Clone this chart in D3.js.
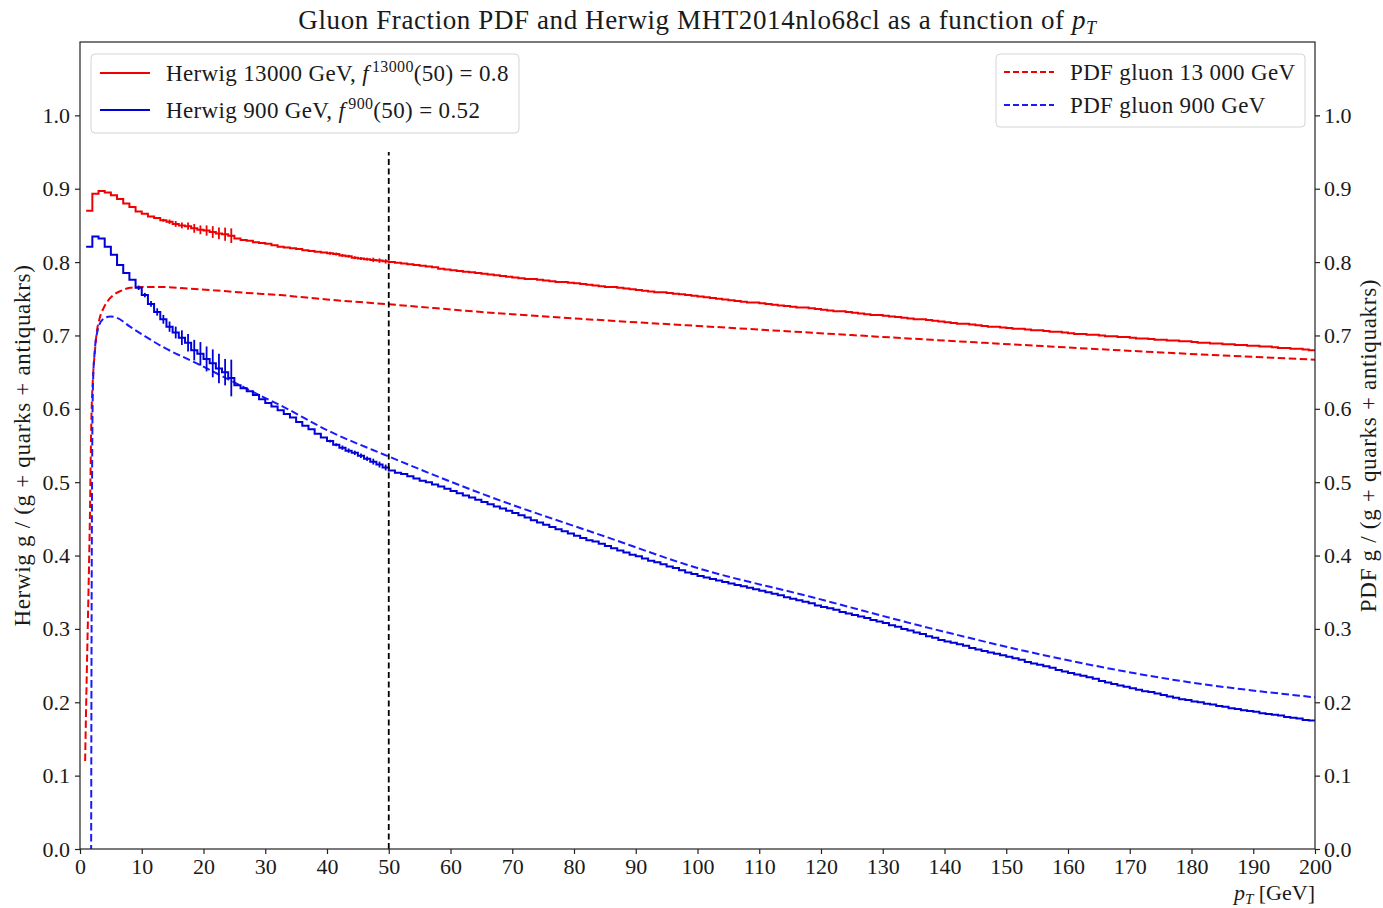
<!DOCTYPE html>
<html><head><meta charset="utf-8">
<script src="https://cdn.jsdelivr.net/npm/d3@7"></script>
<style>
body{margin:0;background:#fff}
svg{display:block}
text{font-family:"Liberation Serif","DejaVu Serif",serif;fill:#1a1a1a}
</style>
</head><body>
<svg id="c" width="1383" height="908"></svg>
<script>
// ---------------- data ----------------
// Herwig histograms: 1 GeV bins, lower edges 1..199 GeV (upper edge of last bin = 200)
const binLow = d3.range(1, 200);
const herwig13000 = [
 0.870,0.893,0.897,0.895,0.891,0.886,0.880,0.875,0.869,0.866,
 0.862,0.860,0.857,0.855,0.852,0.850,0.849,0.846,0.844,0.843,
 0.841,0.839,0.838,0.836,0.832,0.830,0.829,0.827,0.826,0.825,
 0.823,0.821,0.820,0.819,0.818,0.816,0.815,0.814,0.813,0.812,
 0.811,0.809,0.808,0.806,0.805,0.804,0.803,0.802,0.801,
 0.800,0.799,0.798,0.797,0.796,0.795,0.794,0.793,0.791,0.790,
 0.789,0.788,0.787,0.786,0.785,0.784,0.783,0.782,0.781,0.780,
 0.779,0.778,0.777,0.777,0.776,0.775,0.774,0.773,0.773,0.772,
 0.771,0.770,0.769,0.768,0.767,0.766,0.766,0.765,0.764,0.763,
 0.762,0.761,0.760,0.759,0.759,0.758,0.757,0.756,0.755,0.754,
 0.753,0.752,0.751,0.750,0.749,0.748,0.747,0.746,0.745,0.745,
 0.744,0.743,0.742,0.741,0.740,0.739,0.738,0.738,0.737,0.736,
 0.735,0.734,0.733,0.733,0.732,0.731,0.730,0.729,0.728,0.728,
 0.727,0.726,0.725,0.724,0.723,0.722,0.722,0.721,0.720,0.719,
 0.718,0.717,0.716,0.716,0.715,0.714,0.713,0.712,0.712,0.711,
 0.710,0.709,0.709,0.708,0.707,0.707,0.706,0.705,0.705,0.704,
 0.703,0.702,0.702,0.701,0.701,0.700,0.699,0.699,0.698,0.698,
 0.697,0.696,0.696,0.695,0.694,0.694,0.693,0.693,0.692,0.692,
 0.691,0.690,0.690,0.689,0.689,0.688,0.688,0.687,0.687,0.686,
 0.686,0.685,0.685,0.684,0.683,0.683,0.682,0.682,0.681,0.680
];
const herwig900 = [
 0.821,0.835,0.832,0.821,0.810,0.796,0.785,0.776,0.765,0.755,
 0.743,0.732,0.722,0.712,0.704,0.697,0.690,0.680,0.675,0.668,
 0.662,0.655,0.650,0.642,0.632,0.628,0.624,0.619,0.613,0.608,
 0.603,0.598,0.593,0.588,0.582,0.577,0.572,0.566,0.561,0.556,
 0.551,0.547,0.543,0.540,0.536,0.532,0.528,0.524,0.520,
 0.516,0.513,0.511,0.508,0.505,0.502,0.500,0.497,0.494,0.491,
 0.488,0.485,0.482,0.479,0.476,0.473,0.470,0.467,0.464,0.461,
 0.458,0.455,0.452,0.448,0.445,0.442,0.439,0.436,0.433,0.430,
 0.427,0.424,0.421,0.419,0.416,0.413,0.410,0.407,0.404,0.401,
 0.399,0.396,0.393,0.391,0.388,0.385,0.383,0.380,0.377,0.375,
 0.372,0.370,0.368,0.366,0.364,0.362,0.360,0.358,0.356,0.354,
 0.352,0.350,0.348,0.346,0.343,0.341,0.339,0.337,0.335,0.332,
 0.330,0.328,0.326,0.323,0.321,0.319,0.317,0.315,0.312,0.310,
 0.308,0.305,0.303,0.300,0.298,0.295,0.293,0.290,0.288,0.285,
 0.283,0.281,0.279,0.277,0.274,0.272,0.270,0.268,0.266,0.264,
 0.262,0.260,0.258,0.255,0.253,0.251,0.249,0.247,0.244,0.242,
 0.240,0.238,0.236,0.234,0.232,0.229,0.227,0.225,0.223,0.221,
 0.219,0.217,0.215,0.214,0.212,0.210,0.208,0.206,0.204,0.203,
 0.201,0.200,0.198,0.197,0.195,0.194,0.192,0.191,0.189,0.188,
 0.187,0.185,0.184,0.183,0.182,0.180,0.179,0.178,0.176,0.175
];
// statistical errors (bin lower edge -> half-length)
const err13000Bins = [13,14,15,16,17,18,19,20,21,22,23,24,40,41,42,43,44,45,46,47,48,49];
const err13000Vals = [0.002,0.003,0.004,0.004,0.005,0.006,0.006,0.007,0.008,0.008,0.009,0.010,
                      0.002,0.002,0.002,0.002,0.002,0.002,0.002,0.003,0.003,0.003];
const err900Bins = [9,10,11,12,13,14,15,16,17,18,19,20,21,22,23,24,40,41,42,43,44,45,46,47,48,49];
const err900Vals = [0.003,0.003,0.004,0.005,0.006,0.007,0.008,0.010,0.012,0.014,0.016,0.017,0.019,0.020,0.018,0.025,
                    0.002,0.002,0.003,0.003,0.003,0.003,0.003,0.004,0.004,0.004];

// PDF gluon fractions
const pdf13000Pt = [0.83,1.1,1.35,1.6,1.83,2.1,2.4,2.65,3.2,3.8,4.5,5.4,6.7,8.1,10,13.5,17.5,21.6,27,32.4,40,50,65,81,100,118,138,157,177,200];
const pdf13000 =   [0.12,0.24,0.34,0.45,0.58,0.643,0.677,0.700,0.724,0.737,0.747,0.755,0.761,0.765,0.766,0.766,0.764,0.7616,0.758,0.755,0.749,0.7425,0.732,0.7227,0.713,0.704,0.694,0.685,0.676,0.667];
const pdf900Pt = [1.80,1.86,1.94,2.1,2.4,2.8,3.7,4.9,6.0,8.1,10.5,13.5,18.9,24.3,29.7,32.4,40,50,65,85,100,118.3,137.8,157.3,176.8,200];
const pdf900 =   [-0.02,0.25,0.476,0.633,0.680,0.705,0.722,0.726,0.724,0.712,0.699,0.684,0.662,0.639,0.616,0.605,0.571,0.535,0.4845,0.426,0.383,0.3438,0.3007,0.262,0.231,0.2067];

const xTicks = d3.range(0, 201, 10);
const yTicks = [0.0,0.1,0.2,0.3,0.4,0.5,0.6,0.7,0.8,0.9,1.0];
const refPt = 50, refTop = 0.95;

// ---------------- layout ----------------
const L = 80, R = 1315, T = 42, B = 849;
const svg = d3.select("#c");
const x = d3.scaleLinear().domain([0, 200]).range([L, R]);
const y = d3.scaleLinear().domain([0, 1.1]).range([B, T]);
const red = "#f00000", blueS = "#0000d8", blueD = "#1a1aff";
const FS = 22;

svg.append("clipPath").attr("id","clip").append("rect")
  .attr("x", L).attr("y", T).attr("width", R-L).attr("height", B-T);
const plot = svg.append("g").attr("clip-path","url(#clip)");

// PDF dashed curves
const pdfLine = d3.line().x(d=>x(d[0])).y(d=>y(d[1])).curve(d3.curveMonotoneX);
plot.append("path").datum(pdf13000Pt.map((p,i)=>[p,pdf13000[i]]))
  .attr("d", pdfLine).attr("fill","none").attr("stroke",red).attr("stroke-width",2)
  .attr("stroke-dasharray","7.5,3.5");
plot.append("path").datum(pdf900Pt.map((p,i)=>[p,pdf900[i]]))
  .attr("d", pdfLine).attr("fill","none").attr("stroke",blueD).attr("stroke-width",2)
  .attr("stroke-dasharray","7.5,3.5");

// Herwig step histograms
const stepLine = d3.line().x(d=>x(d[0])).y(d=>y(d[1])).curve(d3.curveStepAfter);
function hist(vals, color, eb, ev){
  const pts = binLow.map((b,i)=>[b, vals[i]]);
  pts.push([200, vals[vals.length-1]]);
  plot.append("path").datum(pts).attr("d", stepLine).attr("fill","none")
    .attr("stroke", color).attr("stroke-width", 2);
  plot.selectAll(null).data(eb.map((b,i)=>({b, e: ev[i], v: vals[binLow.indexOf(b)]})))
    .enter().append("line")
    .attr("x1", d=>x(d.b+0.5)).attr("x2", d=>x(d.b+0.5))
    .attr("y1", d=>y(d.v-d.e)).attr("y2", d=>y(d.v+d.e))
    .attr("stroke", color).attr("stroke-width", 1.8);
}
hist(herwig13000, red, err13000Bins, err13000Vals);
hist(herwig900, blueS, err900Bins, err900Vals);

// vertical reference line at 50 GeV
plot.append("line").attr("x1", x(refPt)).attr("x2", x(refPt))
  .attr("y1", y(0)).attr("y2", y(refTop))
  .attr("stroke","#000").attr("stroke-width",1.8).attr("stroke-dasharray","6,3.5");

// frame
svg.append("rect").attr("x",L).attr("y",T).attr("width",R-L).attr("height",B-T)
  .attr("fill","none").attr("stroke","#222").attr("stroke-width",1.2);

// axes
function styleAxis(g){
  g.select(".domain").remove();
  g.selectAll(".tick line").attr("stroke","#222").attr("stroke-width",1.2);
  g.selectAll(".tick text").style("font-family",'"Liberation Serif",serif')
    .style("font-size", FS+"px").attr("fill","#1a1a1a");
}
svg.append("g").attr("transform",`translate(0,${B})`)
  .call(d3.axisBottom(x).tickValues(xTicks).tickSize(5).tickPadding(4).tickFormat(d3.format("d")))
  .call(styleAxis);
svg.append("g").attr("transform",`translate(${L},0)`)
  .call(d3.axisLeft(y).tickValues(yTicks).tickSize(5).tickPadding(5).tickFormat(d3.format(".1f")))
  .call(styleAxis);
svg.append("g").attr("transform",`translate(${R},0)`)
  .call(d3.axisRight(y).tickValues(yTicks).tickSize(5).tickPadding(4).tickFormat(d3.format(".1f")))
  .call(styleAxis);

// title
const title = svg.append("text").attr("x", (L+R)/2).attr("y", 29)
  .attr("text-anchor","middle").style("font-size","27px").style("letter-spacing","0.6px");
title.append("tspan").text("Gluon Fraction PDF and Herwig MHT2014nlo68cl as a function of ");
title.append("tspan").style("font-style","italic").text("p");
title.append("tspan").style("font-style","italic").style("font-size","18px").attr("dy",5).text("T");

// x label
const xl = svg.append("text").attr("x", R).attr("y", 900).attr("text-anchor","end")
  .style("font-size", FS+"px");
xl.append("tspan").style("font-style","italic").text("p");
xl.append("tspan").style("font-style","italic").style("font-size","15px").attr("dy",4).text("T");
xl.append("tspan").attr("dy",-4).text(" [GeV]");

// y labels
svg.append("text").attr("transform",`translate(30,${(T+B)/2}) rotate(-90)`)
  .attr("text-anchor","middle").style("font-size","23px").style("letter-spacing","0.7px")
  .text("Herwig g / (g + quarks + antiquakrs)");
svg.append("text").attr("transform",`translate(1376,${(T+B)/2}) rotate(-90)`)
  .attr("text-anchor","middle").style("font-size","23px").style("letter-spacing","0.7px")
  .text("PDF g / (g + quarks + antiquakrs)");

// legends
function legendBox(x0,y0,w,h){
  svg.append("rect").attr("x",x0).attr("y",y0).attr("width",w).attr("height",h)
    .attr("rx",4).attr("fill","#fff").attr("fill-opacity",0.85)
    .attr("stroke","#d4d4d4").attr("stroke-width",1);
}
legendBox(91,54,428,79);
const leg1 = [
  {c: red, name: "Herwig 13000 GeV, ", sup: "13000", val: "(50) = 0.8", ly: 73},
  {c: blueS, name: "Herwig 900 GeV, ", sup: "900", val: "(50) = 0.52", ly: 110}
];
leg1.forEach(d=>{
  svg.append("line").attr("x1",100).attr("x2",150).attr("y1",d.ly).attr("y2",d.ly)
    .attr("stroke",d.c).attr("stroke-width",2);
  const t = svg.append("text").attr("x",166).attr("y",d.ly+8)
    .style("font-size","23px").style("letter-spacing","0.35px");
  t.append("tspan").text(d.name);
  t.append("tspan").style("font-style","italic").text("f");
  t.append("tspan").style("font-size","16px").attr("dy",-9).attr("dx",3).text(d.sup);
  t.append("tspan").attr("dy",9).text(d.val);
});
legendBox(996,54,309,73);
const leg2 = [
  {c: red, name: "PDF gluon 13 000 GeV", ly: 72},
  {c: blueD, name: "PDF gluon 900 GeV", ly: 105}
];
leg2.forEach(d=>{
  svg.append("line").attr("x1",1004).attr("x2",1054).attr("y1",d.ly).attr("y2",d.ly)
    .attr("stroke",d.c).attr("stroke-width",2).attr("stroke-dasharray","6,3");
  svg.append("text").attr("x",1070).attr("y",d.ly+8)
    .style("font-size","23px").style("letter-spacing","0.35px").text(d.name);
});
</script>
</body></html>
